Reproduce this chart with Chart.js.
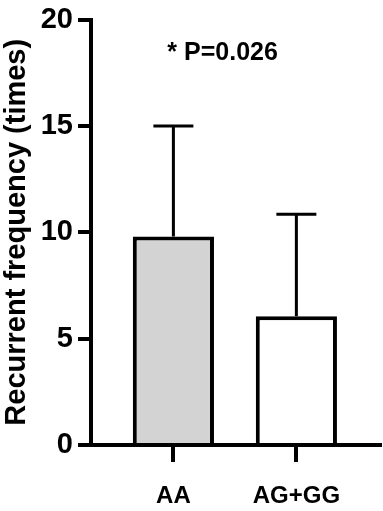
<!DOCTYPE html>
<html>
<head>
<meta charset="utf-8">
<script src="https://cdn.jsdelivr.net/npm/chart.js@4.4.1/dist/chart.umd.min.js"></script>
<style>
  html, body { margin: 0; padding: 0; background: #fff; }
  #wrap { width: 383px; height: 511px; }
</style>
</head>
<body>
<div id="wrap"><canvas id="chart"></canvas></div>
<script>
const categories = ["AA", "AG+GG"];
const means = [9.8, 6.05];
const sds = [5.2, 4.8];
const barColors = ["#d3d3d3", "#ffffff"];
const yTicks = [0, 5, 10, 15, 20];
const pLabel = "* P=0.026";
const pLabelAt = [1.4, 18.4];

const FONT = "'Liberation Sans', Arial, Helvetica, sans-serif";

// upward-only error bars (mean + SD), like the original figure
const errorBars = {
    id: "errorBars",
    afterDatasetsDraw(chart) {
        const { ctx, scales: { x, y } } = chart;
        ctx.save();
        ctx.strokeStyle = "#000";
        ctx.lineWidth = 3;
        means.forEach((m, i) => {
            const px = x.getPixelForValue(i + 1);
            const top = y.getPixelForValue(m + sds[i]);
            const base = y.getPixelForValue(m);
            ctx.beginPath();
            ctx.moveTo(px, base);
            ctx.lineTo(px, top);
            ctx.moveTo(px - 20, top);
            ctx.lineTo(px + 20, top);
            ctx.stroke();
        });
        ctx.restore();
    }
};

const pValue = {
    id: "pValue",
    afterDraw(chart) {
        const { ctx, scales: { x, y } } = chart;
        ctx.save();
        ctx.font = `bold 25px ${FONT}`;
        ctx.fillStyle = "#000";
        ctx.textAlign = "center";
        ctx.textBaseline = "middle";
        ctx.fillText(pLabel, x.getPixelForValue(pLabelAt[0]), y.getPixelForValue(pLabelAt[1]));
        ctx.restore();
    }
};

new Chart(document.getElementById("chart"), {
    type: "bar",
    data: {
        datasets: [{
            data: means.map((m, i) => ({ x: i + 1, y: m })),
            backgroundColor: barColors,
            borderColor: "#000",
            borderWidth: 4,
            categoryPercentage: 1,
            barPercentage: 0.66,
        }]
    },
    options: {
        responsive: true,
        maintainAspectRatio: false,
        animation: false,
        layout: { padding: { top: 0, right: 3, left: 0, bottom: 0 } },
        plugins: {
            legend: { display: false },
            tooltip: { enabled: false },
        },
        scales: {
            x: {
                type: "linear",
                offset: false,
                min: 0.33,
                max: 2.68,
                afterBuildTicks: (s) => { s.ticks = categories.map((c, i) => ({ value: i + 1 })); },
                afterFit: (s) => { s.height = 66; },
                grid: { offset: false, drawOnChartArea: false, tickLength: 17, lineWidth: 4, color: "#000" },
                border: { color: "#000", width: 4 },
                ticks: {
                    callback: (v) => categories[v - 1],
                    color: "#000",
                    font: { family: FONT, size: 24, weight: "bold" },
                    padding: 20,
                    maxRotation: 0,
                    autoSkip: false,
                },
            },
            y: {
                min: 0,
                max: 20,
                afterBuildTicks: (s) => { s.ticks = yTicks.map((v) => ({ value: v })); },
                afterFit: (s) => { s.width = 91; },
                grid: { drawOnChartArea: false, tickLength: 13, lineWidth: 4, color: "#000" },
                border: { color: "#000", width: 4 },
                ticks: {
                    color: "#000",
                    font: { family: FONT, size: 29, weight: "bold", lineHeight: 1.0 },
                    padding: 5,
                },
                title: {
                    display: true,
                    text: "Recurrent frequency (times)",
                    color: "#000",
                    font: { family: FONT, size: 29, weight: "bold", lineHeight: 1.1 },
                    padding: { top: 1, bottom: 0 },
                },
            },
        },
    },
    plugins: [errorBars, pValue],
});
</script>
</body>
</html>
